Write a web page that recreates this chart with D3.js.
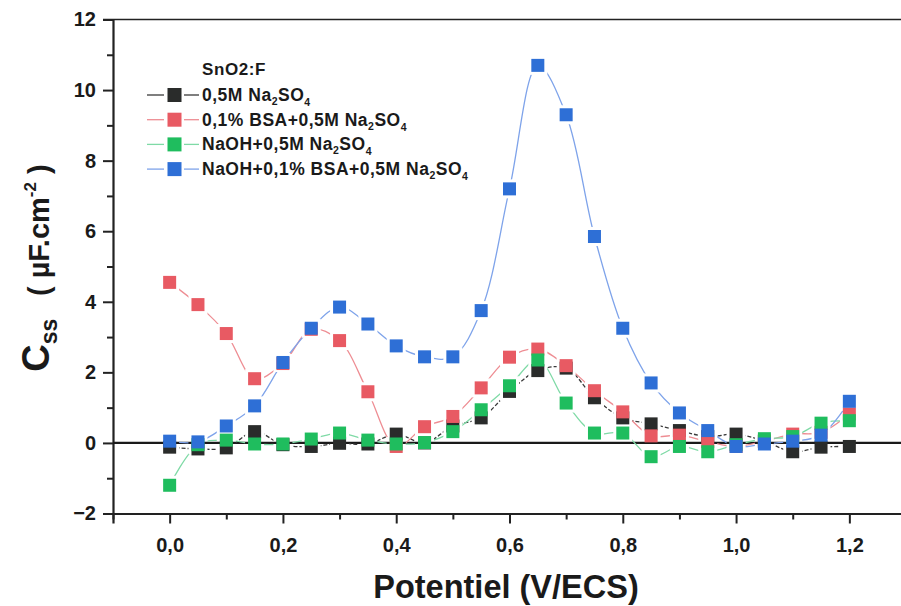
<!DOCTYPE html>
<html><head><meta charset="utf-8">
<script src="https://cdn.jsdelivr.net/npm/d3@7/dist/d3.min.js"></script>
<style>body{margin:0;background:#fff}svg{display:block}text{font-family:"Liberation Sans",Arial,sans-serif;font-weight:bold;fill:#1a1a1a}</style>
</head><body><svg id="c" width="901" height="606"></svg>
<script>
const potentials = [0,0.05,0.10,0.15,0.20,0.25,0.30,0.35,0.40,0.45,0.50,0.55,0.60,0.65,0.70,0.75,0.80,0.85,0.90,0.95,1.00,1.05,1.10,1.15,1.20];
const naso4 = [-0.12,-0.17,-0.14,0.32,-0.05,-0.10,-0.01,-0.03,0.25,0.00,0.48,0.71,1.46,2.05,2.12,1.28,0.71,0.54,0.35,0.18,0.25,0.05,-0.25,-0.12,-0.10];
const bsa = [4.55,3.92,3.10,1.82,2.25,3.22,2.90,1.45,-0.10,0.46,0.75,1.56,2.43,2.66,2.19,1.48,0.88,0.20,0.22,0.04,-0.10,0.05,0.25,0.30,0.82];
const naoh = [-1.20,-0.05,0.08,-0.03,-0.03,0.11,0.28,0.08,-0.03,0.01,0.32,0.94,1.62,2.35,1.13,0.28,0.28,-0.39,-0.10,-0.25,-0.05,0.12,0.18,0.56,0.63];
const naohBsa = [0.05,0.03,0.48,1.05,2.28,3.25,3.85,3.37,2.75,2.44,2.44,3.75,7.20,10.70,9.30,5.85,3.25,1.70,0.85,0.35,-0.10,-0.03,0.05,0.22,1.18];
const seriesNames = ["0,5M Na","0,1% BSA+0,5M Na","NaOH+0,5M Na","NaOH+0,1% BSA+0,5M Na"];
const xTicks = [0,0.2,0.4,0.6,0.8,1.0,1.2];
const yTicks = [-2,0,2,4,6,8,10,12];

const series = [
  {name:seriesNames[0], vals:naso4, fill:"#2a2c2b", line:"#3a3a3a", dash:"4,2"},
  {name:seriesNames[1], vals:bsa, fill:"#e85a63", line:"#ee8d93", dash:null},
  {name:seriesNames[2], vals:naoh, fill:"#1fbd5e", line:"#7fdaa6", dash:null},
  {name:seriesNames[3], vals:naohBsa, fill:"#2e6fd6", line:"#7ea3ea", dash:null}
];

const svg = d3.select("#c");
const L=113, R=906, T=19.5, B=513.5;
const x = d3.scaleLinear().domain([-0.1,1.3]).range([L,R]);
const y = d3.scaleLinear().domain([-2,12]).range([B,T]);
const fmt = d => d3.format(".1f")(d).replace(".",",");
const MS = 13, GAP = 19;

// frame top
svg.append("line").attr("x1",L-10).attr("x2",R).attr("y1",T).attr("y2",T).attr("stroke","#222").attr("stroke-width",1.6);

// y axis
const yAx = svg.append("g").attr("transform",`translate(${L},0)`)
  .call(d3.axisLeft(y).tickValues(yTicks).tickSize(10).tickPadding(7).tickFormat(d3.format("d")));
yAx.select(".domain").attr("stroke","#222").attr("stroke-width",2.2);
yAx.selectAll(".tick line").attr("stroke","#222").attr("stroke-width",2);
yAx.selectAll(".tick text").attr("font-size",20).style("font-family","Liberation Sans, Arial").style("font-weight","bold").attr("fill","#1a1a1a");
svg.append("g").attr("transform",`translate(${L},0)`)
  .call(d3.axisLeft(y).tickValues(d3.range(-1,12,2)).tickSize(6).tickFormat(""))
  .call(g=>{g.select(".domain").remove();g.selectAll("line").attr("stroke","#222").attr("stroke-width",2);});

// x axis
const xAx = svg.append("g").attr("transform",`translate(0,${B})`)
  .call(d3.axisBottom(x).tickValues(xTicks).tickSize(10).tickPadding(14).tickFormat(fmt));
xAx.select(".domain").attr("stroke","#222").attr("stroke-width",2.2);
xAx.selectAll(".tick line").attr("stroke","#222").attr("stroke-width",2);
xAx.selectAll(".tick text").attr("font-size",20).style("font-family","Liberation Sans, Arial").style("font-weight","bold").attr("fill","#1a1a1a");
svg.append("g").attr("transform",`translate(0,${B})`)
  .call(d3.axisBottom(x).tickValues([-0.1,0.1,0.3,0.5,0.7,0.9,1.1]).tickSize(6).tickFormat(""))
  .call(g=>{g.select(".domain").remove();g.selectAll("line").attr("stroke","#222").attr("stroke-width",2);});

// zero line
svg.append("line").attr("x1",L).attr("x2",R).attr("y1",y(0)).attr("y2",y(0)).attr("stroke","#1a1a1a").attr("stroke-width",2.2);

// masks & lines
const defs = svg.append("defs");
const lineGen = d3.line().x((d,i)=>x(potentials[i])).y(d=>y(d)).curve(d3.curveCatmullRom.alpha(0.5));
series.forEach((s,k)=>{
  const m = defs.append("mask").attr("id","m"+k).attr("maskUnits","userSpaceOnUse").attr("x",0).attr("y",0).attr("width",901).attr("height",606);
  m.append("rect").attr("width",901).attr("height",606).attr("fill","#fff");
  m.selectAll("rect.g").data(s.vals).join("rect").attr("class","g")
    .attr("x",(d,i)=>x(potentials[i])-GAP/2).attr("y",d=>y(d)-GAP/2).attr("width",GAP).attr("height",GAP).attr("fill","#000");
  svg.append("path").attr("d",lineGen(s.vals)).attr("fill","none").attr("stroke",s.line)
    .attr("stroke-width",1.3).attr("stroke-dasharray",s.dash).attr("mask",`url(#m${k})`);
});
series.forEach(s=>{
  svg.append("g").selectAll("rect").data(s.vals).join("rect")
    .attr("x",(d,i)=>x(potentials[i])-MS/2).attr("y",d=>y(d)-MS/2).attr("width",MS).attr("height",MS).attr("fill",s.fill);
});

// legend
const lg = svg.append("g");
lg.append("text").attr("x",202).attr("y",75).attr("font-size",17).attr("letter-spacing",0.6).text("SnO2:F");
series.forEach((s,k)=>{
  const yy = 95 + k*24.7;
  lg.append("line").attr("x1",147).attr("x2",164).attr("y1",yy).attr("y2",yy).attr("stroke",s.line).attr("stroke-width",1.3);
  lg.append("line").attr("x1",184).attr("x2",199).attr("y1",yy).attr("y2",yy).attr("stroke",s.line).attr("stroke-width",1.3);
  lg.append("rect").attr("x",174.5-7).attr("y",yy-7).attr("width",14).attr("height",14).attr("fill",s.fill);
  const t = lg.append("text").attr("x",202).attr("y",yy+6).attr("font-size",17.5).attr("letter-spacing",0.5);
  t.append("tspan").text(s.name);
  t.append("tspan").attr("font-size",10.5).attr("dy",4).text("2");
  t.append("tspan").attr("font-size",17.5).attr("dy",-4).text("SO");
  t.append("tspan").attr("font-size",10.5).attr("dy",5).text("4");
});

// axis titles
svg.append("text").attr("x",506).attr("y",598).attr("text-anchor","middle").attr("font-size",32.5).text("Potentiel (V/ECS)");
const yl = svg.append("text").attr("transform","translate(49,268) rotate(-90)").attr("text-anchor","middle");
yl.append("tspan").attr("font-size",38).text("C");
yl.append("tspan").attr("font-size",23).attr("dy",8).text("ss");
yl.append("tspan").attr("font-size",29).attr("dy",-8).text("\u2002 ( µF.cm");
yl.append("tspan").attr("font-size",17).attr("dy",-13).text("-2");
yl.append("tspan").attr("font-size",29).attr("dy",13).text(" )");
</script></body></html>
